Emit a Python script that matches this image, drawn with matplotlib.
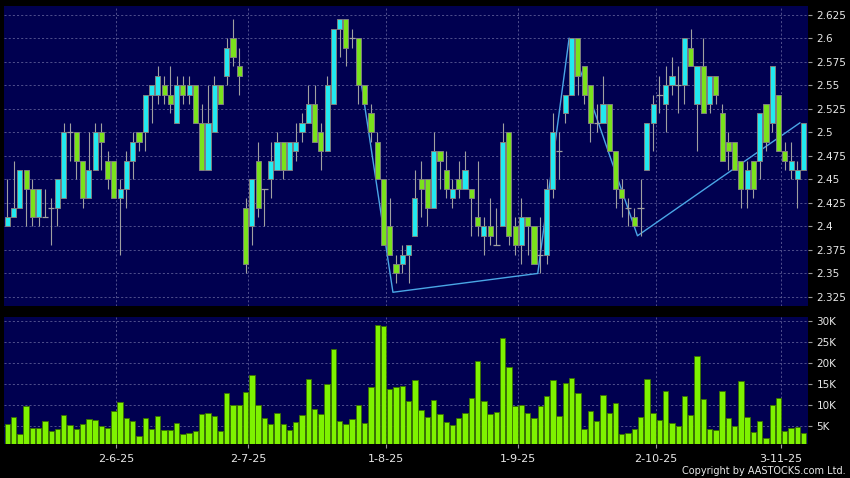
import matplotlib

matplotlib.use("Agg")
import matplotlib.pyplot as plt
import numpy as np

# ── Data ────────────────────────────────────────────────────────────────────
OPEN = [
    2.40, 2.41, 2.42, 2.46, 2.44, 2.41, 2.41, 2.42, 2.42, 2.43,
    2.50, 2.50, 2.47, 2.43, 2.46, 2.50, 2.47, 2.47, 2.43, 2.44,
    2.47, 2.50, 2.50, 2.54, 2.54, 2.55, 2.54, 2.51, 2.55, 2.54,
    2.55, 2.51, 2.46, 2.50, 2.55, 2.56, 2.60, 2.57, 2.42, 2.40,
    2.47, 2.44, 2.45, 2.46, 2.49, 2.46, 2.48, 2.50, 2.51, 2.53,
    2.50, 2.48, 2.53, 2.61, 2.62, 2.60, 2.60, 2.55, 2.52, 2.49,
    2.45, 2.40, 2.36, 2.36, 2.37, 2.39, 2.45, 2.45, 2.42, 2.48,
    2.46, 2.43, 2.45, 2.44, 2.44, 2.41, 2.39, 2.40, 2.38, 2.40,
    2.50, 2.40, 2.38, 2.41, 2.40, 2.37, 2.37, 2.44, 2.48, 2.52,
    2.54, 2.60, 2.57, 2.55, 2.51, 2.51, 2.53, 2.48, 2.44, 2.42,
    2.41, 2.42, 2.46, 2.51, 2.54, 2.53, 2.55, 2.55, 2.55, 2.59,
    2.53, 2.57, 2.53, 2.56, 2.52, 2.49, 2.49, 2.47, 2.44, 2.47,
    2.47, 2.53, 2.51, 2.54, 2.48, 2.46, 2.45, 2.46,
]
HIGH = [
    2.45, 2.47, 2.46, 2.46, 2.45, 2.44, 2.44, 2.43, 2.45, 2.51,
    2.51, 2.50, 2.47, 2.50, 2.51, 2.51, 2.48, 2.47, 2.45, 2.48,
    2.50, 2.50, 2.54, 2.55, 2.57, 2.56, 2.57, 2.56, 2.56, 2.56,
    2.55, 2.53, 2.55, 2.56, 2.55, 2.60, 2.62, 2.59, 2.43, 2.45,
    2.49, 2.44, 2.49, 2.50, 2.49, 2.49, 2.51, 2.52, 2.55, 2.55,
    2.51, 2.56, 2.61, 2.62, 2.62, 2.61, 2.60, 2.55, 2.53, 2.50,
    2.45, 2.43, 2.37, 2.38, 2.38, 2.46, 2.47, 2.45, 2.50, 2.48,
    2.48, 2.45, 2.47, 2.48, 2.44, 2.47, 2.41, 2.43, 2.42, 2.51,
    2.50, 2.41, 2.43, 2.41, 2.40, 2.41, 2.45, 2.52, 2.50, 2.54,
    2.60, 2.60, 2.57, 2.55, 2.53, 2.56, 2.53, 2.48, 2.45, 2.43,
    2.42, 2.45, 2.51, 2.54, 2.56, 2.57, 2.58, 2.57, 2.60, 2.61,
    2.57, 2.60, 2.56, 2.56, 2.53, 2.50, 2.49, 2.47, 2.47, 2.47,
    2.52, 2.53, 2.57, 2.54, 2.49, 2.49, 2.47, 2.51,
]
LOW = [
    2.40, 2.41, 2.42, 2.40, 2.40, 2.40, 2.41, 2.38, 2.40, 2.43,
    2.47, 2.45, 2.42, 2.43, 2.46, 2.46, 2.44, 2.43, 2.37, 2.42,
    2.45, 2.48, 2.48, 2.51, 2.53, 2.53, 2.52, 2.51, 2.53, 2.53,
    2.51, 2.46, 2.46, 2.50, 2.53, 2.55, 2.57, 2.54, 2.35, 2.38,
    2.41, 2.40, 2.43, 2.46, 2.45, 2.46, 2.47, 2.49, 2.51, 2.49,
    2.46, 2.48, 2.53, 2.58, 2.57, 2.59, 2.53, 2.53, 2.49, 2.45,
    2.38, 2.37, 2.34, 2.35, 2.34, 2.39, 2.41, 2.40, 2.42, 2.44,
    2.43, 2.42, 2.43, 2.44, 2.39, 2.39, 2.37, 2.38, 2.38, 2.40,
    2.38, 2.37, 2.36, 2.37, 2.36, 2.35, 2.36, 2.43, 2.45, 2.51,
    2.54, 2.54, 2.53, 2.49, 2.50, 2.51, 2.48, 2.42, 2.41, 2.40,
    2.40, 2.39, 2.46, 2.48, 2.52, 2.50, 2.54, 2.52, 2.53, 2.57,
    2.48, 2.52, 2.52, 2.53, 2.47, 2.46, 2.46, 2.42, 2.42, 2.43,
    2.45, 2.48, 2.50, 2.48, 2.46, 2.45, 2.42, 2.46,
]
CLOSE = [
    2.41, 2.42, 2.46, 2.44, 2.41, 2.44, 2.41, 2.42, 2.45, 2.50,
    2.50, 2.47, 2.43, 2.46, 2.50, 2.49, 2.45, 2.43, 2.44, 2.47,
    2.49, 2.49, 2.54, 2.55, 2.56, 2.54, 2.53, 2.55, 2.54, 2.55,
    2.51, 2.46, 2.51, 2.55, 2.53, 2.59, 2.58, 2.56, 2.36, 2.45,
    2.42, 2.44, 2.47, 2.49, 2.46, 2.49, 2.49, 2.51, 2.53, 2.49,
    2.48, 2.55, 2.61, 2.62, 2.59, 2.60, 2.55, 2.53, 2.50, 2.45,
    2.38, 2.37, 2.35, 2.37, 2.38, 2.43, 2.44, 2.42, 2.48, 2.47,
    2.44, 2.44, 2.44, 2.46, 2.43, 2.40, 2.40, 2.39, 2.38, 2.49,
    2.39, 2.38, 2.41, 2.40, 2.36, 2.37, 2.44, 2.50, 2.48, 2.54,
    2.60, 2.56, 2.54, 2.51, 2.51, 2.53, 2.48, 2.44, 2.43, 2.42,
    2.40, 2.42, 2.51, 2.53, 2.54, 2.55, 2.56, 2.55, 2.60, 2.57,
    2.57, 2.52, 2.56, 2.54, 2.47, 2.48, 2.46, 2.44, 2.46, 2.44,
    2.52, 2.49, 2.57, 2.48, 2.47, 2.47, 2.46, 2.51,
]
# volume in thousands of shares
VOLUME_K = [
    5.4, 7.2, 3.0, 9.8, 4.6, 4.6, 6.3, 3.7, 4.4, 7.5,
    5.2, 4.2, 5.4, 6.6, 6.4, 5.1, 4.5, 8.6, 10.6, 6.8,
    6.1, 2.5, 6.8, 4.4, 7.4, 4.0, 4.0, 5.6, 3.1, 3.3,
    3.9, 7.8, 8.1, 7.4, 3.8, 12.8, 9.9, 9.9, 13.0, 17.1,
    9.9, 6.8, 5.5, 8.0, 5.5, 4.0, 6.0, 7.5, 16.3, 9.1,
    7.9, 15.0, 23.4, 6.1, 5.4, 6.7, 9.9, 5.6, 14.4, 29.0,
    28.8, 13.8, 14.4, 14.5, 10.9, 15.9, 8.9, 7.1, 11.2, 7.9,
    6.0, 5.2, 6.8, 8.1, 11.7, 20.5, 11.0, 7.9, 8.3, 26.0,
    19.0, 9.8, 10.0, 8.1, 7.0, 9.8, 12.1, 16.0, 7.3, 15.2,
    16.5, 12.8, 4.2, 8.6, 6.3, 12.4, 8.0, 10.4, 3.0, 3.3,
    4.4, 7.1, 16.3, 8.2, 6.4, 13.3, 5.6, 5.0, 12.1, 7.7,
    21.6, 11.4, 4.3, 4.1, 13.3, 6.8, 5.0, 15.6, 7.1, 3.6,
    6.2, 2.1, 9.9, 11.6, 3.7, 4.5, 4.8, 3.4,
]

DATE_INDEX = [17, 38, 60, 81, 103, 123]
DATE_LABELS = ["2-6-25", "2-7-25", "1-8-25", "1-9-25", "2-10-25", "3-11-25"]

# trend line drawn over the candles (candle index, price)
ZIGZAG_X = [56.5, 61.5, 84.6, 89.6, 100.5, 126.4]
ZIGZAG_Y = [2.55, 2.33, 2.35, 2.60, 2.39, 2.51]

PRICE_TICKS = [2.325, 2.35, 2.375, 2.4, 2.425, 2.45, 2.475,
               2.5, 2.525, 2.55, 2.575, 2.6, 2.625]
VOLUME_TICKS_K = [5, 10, 15, 20, 25, 30]

# ── Style ───────────────────────────────────────────────────────────────────
BG = "black"
PANEL = "#000050"
GRID = "#5c5c96"
UP = "#22e9f0"
DOWN = "#7ae21c"
EDGE = "#808080"
VOL_FACE = "#7ef200"
VOL_EDGE = "#3a7000"
TEXT = "#e8e8e8"


def style_axis(ax):
    ax.set_facecolor(PANEL)
    for sp in ax.spines.values():
        sp.set_visible(False)
    ax.yaxis.tick_right()
    ax.grid(True, color=GRID, linestyle=(0, (2.5, 2.5)), linewidth=0.6)
    ax.set_axisbelow(True)
    ax.tick_params(axis="y", colors="#9a9a9a", labelcolor=TEXT,
                   labelsize=7.5, length=3, width=0.8, pad=3)


def main():
    x = np.arange(len(OPEN))
    o = np.array(OPEN)
    h = np.array(HIGH)
    lo = np.array(LOW)
    c = np.array(CLOSE)
    tick_pos = np.array(DATE_INDEX) + 0.4

    fig = plt.figure(figsize=(8.5, 4.78), dpi=100, facecolor=BG)
    ax = fig.add_axes([4 / 850, 1 - 306 / 478, 804 / 850, 300 / 478])
    axv = fig.add_axes([4 / 850, 1 - 444 / 478, 804 / 850, 127 / 478])

    # price panel
    style_axis(ax)
    ax.plot(ZIGZAG_X, ZIGZAG_Y, color="#4aa6e6", linewidth=1.0, zorder=2)
    ax.vlines(x, lo, h, color="#a0a0a0", linewidth=0.8, zorder=3)
    up = c > o
    down = c < o
    flat = c == o
    ax.bar(x[up], (c - o)[up], bottom=o[up], width=0.82, color=UP,
           edgecolor=EDGE, linewidth=0.7, zorder=4)
    ax.bar(x[down], (o - c)[down], bottom=c[down], width=0.82, color=DOWN,
           edgecolor=EDGE, linewidth=0.7, zorder=4)
    ax.hlines(c[flat], x[flat] - 0.5, x[flat] + 0.5, color="#a0a0a0",
              linewidth=0.9, zorder=4)

    ax.set_xlim(-0.53, 127.7)
    ax.set_ylim(2.3154, 2.6342)
    ax.set_yticks(PRICE_TICKS)
    ax.set_yticklabels([f"{t:g}" for t in PRICE_TICKS])
    ax.set_xticks(tick_pos)
    ax.tick_params(axis="x", length=0, labelbottom=False)

    # volume panel
    style_axis(axv)
    axv.bar(x, np.array(VOLUME_K) * 1000, width=0.86, color=VOL_FACE,
            edgecolor=VOL_EDGE, linewidth=0.6, zorder=3)
    axv.set_xlim(-0.53, 127.7)
    axv.set_ylim(714, 30950)
    axv.set_yticks([v * 1000 for v in VOLUME_TICKS_K])
    axv.set_yticklabels([f"{v}K" for v in VOLUME_TICKS_K])
    axv.set_xticks(tick_pos)
    axv.set_xticklabels(DATE_LABELS)
    axv.tick_params(axis="x", colors="#9a9a9a", labelcolor=TEXT,
                    labelsize=8, length=3, width=0.8, pad=4)

    fig.text(846 / 850, 1 - 471.5 / 478, "Copyright by AASTOCKS.com Ltd.",
             ha="right", va="center", color=TEXT, fontsize=7)

    fig.savefig("out.png", dpi=100, facecolor=BG)
    plt.close(fig)


if __name__ == "__main__":
    main()
